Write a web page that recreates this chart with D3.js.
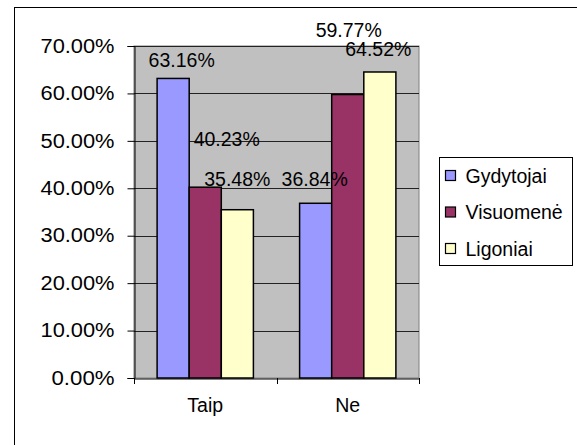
<!DOCTYPE html>
<html>
<head>
<meta charset="utf-8">
<script src="https://cdn.jsdelivr.net/npm/d3@7"></script>
<style>
  html, body { margin: 0; background: #fff; overflow: hidden; }
  svg { display: block; }
  svg text { font-family: "Liberation Sans", Arial, sans-serif; fill: #000; }
</style>
</head>
<body>
<div class="res"></div>
<script>
// data
const categories = ['Taip', 'Ne'];
const seriesNames = ['Gydytojai', 'Visuomenė', 'Ligoniai'];
const gydytojai = [63.16, 36.84];
const visuomene = [40.23, 59.77];
const ligoniai = [35.48, 64.52];
const yTicks = [0, 10, 20, 30, 40, 50, 60, 70];

const seriesValues = [gydytojai, visuomene, ligoniai];
const colours = ['#9999ff', '#993366', '#ffffcc'];

// label offsets (Excel put them in odd places), per series, per category
const labelOffsets = [
    [[8.5, -11.5], [-1, -17]],
    [[21.5, -41], [1, -57.5]],
    [[0, -24], [-1.5, -16]]
];

const W = 577, H = 445;
const plot = { left: 134, top: 46, right: 419, bottom: 378 };

const svg = d3.select('div.res')
    .append('svg')
    .attr('width', W)
    .attr('height', H);

// outer frame (runs off the right/bottom edge)
svg.append('rect')
    .attr('x', 14.5).attr('y', 7.5)
    .attr('width', W + 20).attr('height', H + 20)
    .attr('fill', 'none')
    .attr('stroke', '#000')
    .attr('stroke-width', 1);

/**
 * SCALES
 */
const yScale = d3.scaleLinear()
    .domain([0, 70])
    .range([plot.bottom, plot.top]);

const xScale = d3.scaleBand()
    .domain(categories)
    .range([plot.left, plot.right]);

const xInner = d3.scaleBand()
    .domain(seriesNames)
    .range([0, xScale.bandwidth()])
    .paddingInner(0)
    .paddingOuter(0.72);

// plot background
svg.append('rect')
    .attr('x', plot.left).attr('y', plot.top)
    .attr('width', plot.right - plot.left)
    .attr('height', plot.bottom - plot.top)
    .attr('fill', '#c0c0c0')
    .attr('stroke', '#808080')
    .attr('stroke-width', 1);

// gridlines
svg.append('g')
    .selectAll('line')
    .data(yTicks.filter(d => d > 0))
    .enter().append('line')
    .attr('x1', plot.left).attr('x2', plot.right)
    .attr('y1', d => Math.round(yScale(d)) + 0.5)
    .attr('y2', d => Math.round(yScale(d)) + 0.5)
    .attr('stroke', '#222')
    .attr('stroke-width', 1);

/**
 * BARS
 */
seriesValues.forEach((vals, si) => {
    svg.append('g')
        .selectAll('rect')
        .data(vals)
        .enter().append('rect')
        .attr('x', (d, i) => xScale(categories[i]) + xInner(seriesNames[si]))
        .attr('y', d => yScale(d))
        .attr('width', xInner.bandwidth())
        .attr('height', d => plot.bottom - yScale(d))
        .attr('fill', colours[si])
        .attr('stroke', '#000')
        .attr('stroke-width', 1.5);
});

// value labels
seriesValues.forEach((vals, si) => {
    svg.append('g')
        .selectAll('text')
        .data(vals)
        .enter().append('text')
        .attr('x', (d, i) => xScale(categories[i]) + xInner(seriesNames[si]) + xInner.bandwidth() / 2 + labelOffsets[si][i][0])
        .attr('y', (d, i) => yScale(d) + labelOffsets[si][i][1])
        .attr('text-anchor', 'middle')
        .style('font-size', '19.5px')
        .text(d => d.toFixed(2) + '%');
});

/**
 * AXES
 */
const yAxis = d3.axisLeft(yScale)
    .tickValues(yTicks)
    .tickSize(7)
    .tickPadding(13)
    .tickFormat(d => d.toFixed(2) + '%');

const gy = svg.append('g')
    .attr('transform', `translate(${plot.left + 0.5}, 0)`)
    .call(yAxis);
gy.select('.domain').attr('stroke', '#000');
gy.selectAll('line').attr('stroke', '#000');
gy.selectAll('text')
    .style('font-size', '19.5px')
    .attr('font-family', null)
    .attr('textLength', d => d >= 10 ? 74 : 63)
    .attr('lengthAdjust', 'spacingAndGlyphs');

const xAxis = d3.axisBottom(xScale)
    .tickSize(0)
    .tickPadding(20);

const gx = svg.append('g')
    .attr('transform', `translate(0, ${plot.bottom + 0.5})`)
    .call(xAxis);
gx.select('.domain').attr('stroke', '#000');
gx.selectAll('text').style('font-size', '19.5px');

// category separator ticks
svg.append('g')
    .selectAll('line')
    .data([plot.left, xScale('Ne'), plot.right])
    .enter().append('line')
    .attr('x1', d => Math.round(d) + 0.5).attr('x2', d => Math.round(d) + 0.5)
    .attr('y1', plot.bottom).attr('y2', plot.bottom + 6)
    .attr('stroke', '#000');

/**
 * LEGEND
 */
const legend = svg.append('g').attr('transform', 'translate(439.5, 157.5)');
legend.append('rect')
    .attr('width', 133).attr('height', 108)
    .attr('fill', '#fff')
    .attr('stroke', '#000');

const items = legend.selectAll('g.item')
    .data(seriesNames)
    .enter().append('g')
    .attr('transform', (d, i) => `translate(0, ${18 + i * 36.5})`);

items.append('rect')
    .attr('x', 6).attr('y', -5)
    .attr('width', 10).attr('height', 10)
    .attr('fill', (d, i) => colours[i])
    .attr('stroke', '#000')
    .attr('stroke-width', 1.2);

items.append('text')
    .attr('x', 26)
    .attr('y', 7)
    .style('font-size', '19.5px')
    .text(d => d);
</script>
</body>
</html>
